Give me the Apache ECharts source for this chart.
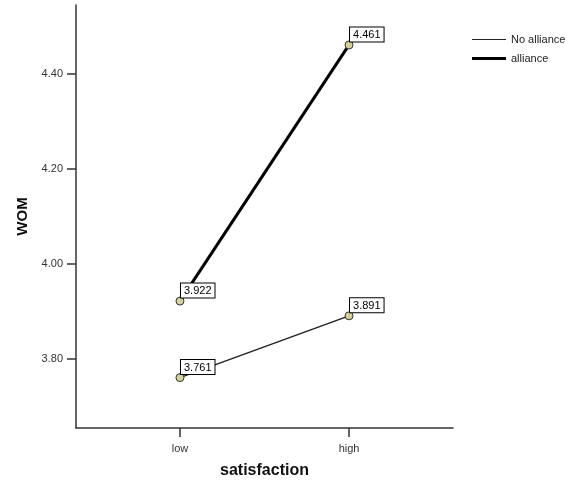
<!DOCTYPE html>
<html>
<head>
<meta charset="utf-8">
<script src="https://cdn.jsdelivr.net/npm/echarts@6/dist/echarts.min.js"></script>
<style>html,body{margin:0;padding:0;background:#fff}#c{width:584px;height:482px}</style>
</head>
<body>
<div id="c"></div>
<script>
var categories = ['low', 'high'];
var seriesNames = ['No alliance', 'alliance'];
var noAlliance = [3.761, 3.891];
var alliance = [3.922, 4.461];
var yTicks = [3.80, 4.00, 4.20, 4.40];

var chart = echarts.init(document.getElementById('c'));
function pts(vals){ return vals.map(function(v,i){ return [i, v]; }); }
var labelCfg = {
  show: true, position: 'top', align: 'left', offset: [1, 6],
  formatter: function(p){ return p.value[1].toFixed(3); },
  fontFamily: 'Liberation Sans, Arial', fontSize: 11, color: '#000',
  backgroundColor: '#fff', borderColor: '#000', borderWidth: 1, padding: [2, 3, 1, 3]
};
var option = {
  animation: false,
  grid: { left: 76, top: 5, right: 131, bottom: 54, containLabel: false, outerBoundsMode: 'none' },
  legend: {
    orient: 'vertical', left: 472, top: 34, padding: 0, itemWidth: 34, itemHeight: 14, itemGap: 8,
    textStyle: { fontFamily: 'Liberation Sans, Arial', fontSize: 11, color: '#222' },
    data: [
      { name: seriesNames[0], icon: 'path://M0,0 H34 V1 H0 Z', itemStyle: { color: '#222', borderWidth: 0 } },
      { name: seriesNames[1], icon: 'path://M0,0 H34 V3 H0 Z', itemStyle: { color: '#000', borderWidth: 0 } }
    ]
  },
  xAxis: {
    type: 'value', min: -0.615, max: 1.615,
    name: 'satisfaction', nameLocation: 'middle', nameGap: 35,
    nameTextStyle: { fontFamily: 'Liberation Sans, Arial', fontSize: 16, fontWeight: 'bold', color: '#111' },
    splitLine: { show: false },
    axisLine: { onZero: false, lineStyle: { color: '#333', width: 1.5 } },
    axisTick: { show: true, length: 9, lineStyle: { color: '#333', width: 1.5 }, customValues: [0, 1] },
    axisLabel: { customValues: [0, 1], margin: 15, fontFamily: 'Liberation Sans, Arial', fontSize: 11, color: '#333',
      formatter: function(v){ return categories[Math.round(v)]; } }
  },
  yAxis: {
    type: 'value', min: 3.655, max: 4.545,
    name: 'WOM', nameLocation: 'middle', nameGap: 41,
    nameTextStyle: { fontFamily: 'Liberation Sans, Arial', fontSize: 15, fontWeight: 'bold', color: '#111' },
    splitLine: { show: false },
    axisLine: { show: true, onZero: false, lineStyle: { color: '#333', width: 1.5 } },
    axisTick: { show: true, length: 9, lineStyle: { color: '#333', width: 1.5 }, customValues: yTicks },
    axisLabel: { customValues: yTicks, margin: 13, fontFamily: 'Liberation Sans, Arial', fontSize: 11, color: '#333',
      formatter: function(v){ return v.toFixed(2); } }
  },
  series: [
    { name: seriesNames[0], type: 'line', data: pts(noAlliance), symbol: 'circle', symbolSize: 8,
      lineStyle: { color: '#222', width: 1.5 },
      itemStyle: { color: '#d6d197', borderColor: '#333', borderWidth: 1 },
      label: labelCfg, z: 3 },
    { name: seriesNames[1], type: 'line', data: pts(alliance), symbol: 'circle', symbolSize: 8,
      lineStyle: { color: '#000', width: 3 },
      itemStyle: { color: '#d6d197', borderColor: '#333', borderWidth: 1 },
      label: labelCfg, z: 3 }
  ]
};
chart.setOption(option);
</script>
</body>
</html>
